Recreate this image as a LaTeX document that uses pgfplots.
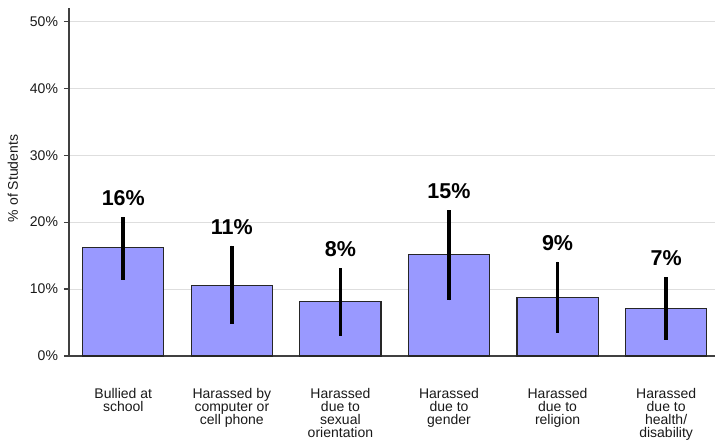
\documentclass[border=0pt]{standalone}
\usepackage{fontspec}
\setmainfont{Liberation Sans}
\usepackage{pgfplots}
\pgfplotsset{compat=1.18}
\usepackage{pgfplotstable}
\definecolor{barblue}{HTML}{9999FF}
\pgfplotstableread{
x y ep em hi lab
0 16.2 4.6 4.8 20.8 16
1 10.55 5.95 5.75 16.5 11
2 8.1 5.0 5.1 13.1 8
3 15.1 6.65 6.8 21.75 15
4 8.8 5.3 5.3 14.1 9
5 7.1 4.7 4.7 11.8 7
}\data
\begin{document}
\begin{tikzpicture}
\begin{axis}[
  scale only axis, width=646bp, height=348bp,
  at={(0,0)}, anchor=south west,
  xmin=-0.5, xmax=5.45, ymin=0, ymax=52,
  axis lines*=left,
  axis line style={-, draw=black!75, line width=1.3bp},
  xtick={0,1,2,3,4,5},
  xticklabels={{Bullied at\\school},{Harassed by\\computer or\\cell phone},{Harassed\\due to\\sexual\\orientation},{Harassed\\due to\\gender},{Harassed\\due to\\religion},{Harassed\\due to\\health/\\disability}},
  x tick style={draw=none},
  ytick={0,10,20,30,40,50},
  yticklabel={\pgfmathprintnumber{\tick}\%},
  /pgf/number format/assume math mode=true,
  tick align=outside, major tick length=5bp,
  y tick style={draw=black!75, line width=1.3bp},
  ymajorgrids, grid style={draw=black!13, line width=1bp},
  tick label style={font=\fontsize{14bp}{13.2bp}\selectfont, text=black!90},
  yticklabel style={xshift=-2.5bp},
  xticklabel style={align=center, anchor=north, yshift=-23.5bp},
  ylabel={\% of Students},
  ylabel style={at={(axis description cs:-0.0867,0.51)}, anchor=center, font=\fontsize{14bp}{16bp}\selectfont, text=black!90},
  clip=false,
]
\addplot[ybar, bar width=0.747, fill=barblue, draw=black!85, line width=1.1bp,
  error bars/.cd, y dir=both, y explicit, error mark=none,
  error bar style={line width=3.7bp, black}]
  table[x=x, y=y, y error plus=ep, y error minus=em]{\data};
\addplot[draw=none, mark=none, nodes near coords={\pgfplotspointmeta\%},
  point meta=explicit symbolic,
  nodes near coords style={anchor=base, yshift=11.5bp, inner sep=0pt, text=black, font=\fontsize{21.5bp}{24bp}\selectfont\bfseries}]
  table[x=x, y=hi, meta=lab]{\data};
\end{axis}
\pgfresetboundingbox
\path[use as bounding box] (-69bp,-84bp) rectangle (646bp,356bp);
\end{tikzpicture}
\end{document}
